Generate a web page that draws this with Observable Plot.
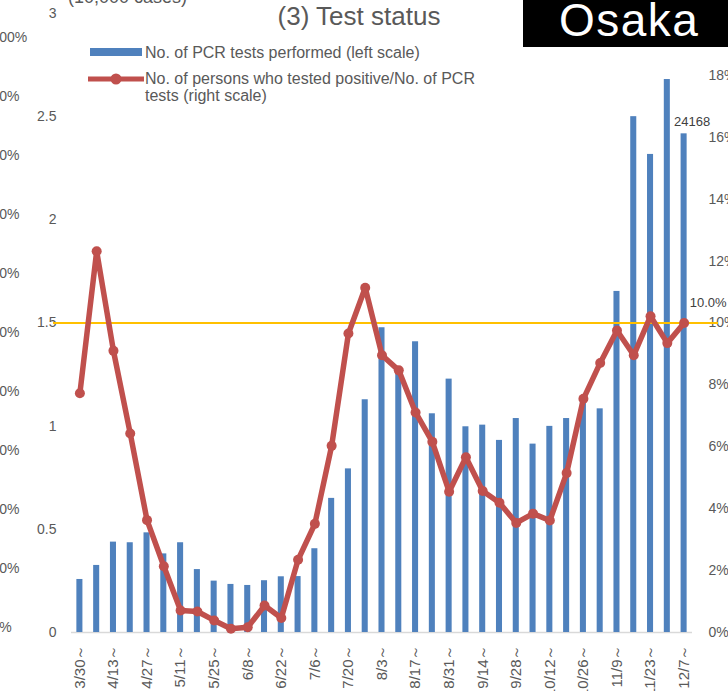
<!DOCTYPE html>
<html>
<head>
<meta charset="utf-8">
<script src="https://cdn.jsdelivr.net/npm/d3@7"></script>
<script src="https://cdn.jsdelivr.net/npm/@observablehq/plot@0.6"></script>
<style>
  html, body { margin: 0; padding: 0; background: #fff; overflow: hidden; }
  #wrap { position: relative; width: 728px; height: 691px; overflow: hidden; font-family: "Liberation Sans", Arial, sans-serif; }
  .abs { position: absolute; white-space: nowrap; }
  #title { left: 0; width: 718px; top: 3px; text-align: center; font-size: 26px; line-height: 26px; color: #595959; }
  #units { left: 68px; top: -12px; font-size: 18px; line-height: 18px; color: #595959; }
  #osaka { left: 523px; top: 0; width: 210px; height: 47px; background: #000; color: #fff; font-size: 46px; line-height: 40px; letter-spacing: 1.5px; padding-left: 36px; box-sizing: border-box; }
  .leg { font-size: 16px; line-height: 17px; color: #595959; }
</style>
</head>
<body>
<div id="wrap">
  <div id="chart"></div>
  <div class="abs" id="units">(10,000 cases)</div>
  <div class="abs" id="title">(3) Test status</div>
  <div class="abs" id="osaka">Osaka</div>
  <div class="abs" style="left:90px;top:48px;width:52px;height:8px;background:#4F81BD"></div>
  <div class="abs leg" style="left:145px;top:44px">No. of PCR tests performed (left scale)</div>
  <svg class="abs" style="left:86px;top:72px" width="60" height="14"><line x1="2" y1="7" x2="58" y2="7" stroke="#C0504D" stroke-width="5"/><circle cx="30" cy="7" r="5.5" fill="#C0504D"/></svg>
  <div class="abs leg" style="left:145px;top:70px">No. of persons who tested positive/No. of PCR<br>tests (right scale)</div>
</div>
<script>
// Weekly categories (week starting)
const weeks = ["3/30","4/6","4/13","4/20","4/27","5/4","5/11","5/18","5/25","6/1","6/8","6/15","6/22","6/29","7/6","7/13","7/20","7/27","8/3","8/10","8/17","8/24","8/31","9/7","9/14","9/21","9/28","10/5","10/12","10/19","10/26","11/2","11/9","11/16","11/23","11/30","12/7"];
// No. of PCR tests performed (10,000 cases)
const tests = [0.257,0.325,0.438,0.435,0.483,0.381,0.435,0.305,0.249,0.233,0.228,0.251,0.270,0.271,0.406,0.650,0.793,1.128,1.477,1.270,1.409,1.060,1.228,0.997,1.005,0.931,1.037,0.913,0.999,1.037,1.120,1.084,1.653,2.500,2.317,2.680,2.4168];
// Positive rate (%)
const positivity = [7.73,12.32,9.10,6.43,3.63,2.14,0.71,0.68,0.39,0.12,0.17,0.87,0.47,2.35,3.51,6.03,9.66,11.14,8.96,8.47,7.11,6.16,4.55,5.66,4.57,4.19,3.54,3.84,3.62,5.15,7.55,8.71,9.76,8.96,10.22,9.35,10.0];
// Axis ticks
const leftTicks = [0,0.5,1,1.5,2,2.5,3];
const rightTicks = [0,2,4,6,8,10,12,14,16,18];
const rightMax = 20;    // right scale max (%) aligned with left max
const leftMax = 3;
const threshold = 10;   // % reference line
// Partially visible tick labels of the neighbouring chart on the left (%)
const neighborTicks = [100,90,80,70,60,50,40,30,20,10,0];

const toLeft = p => p / rightMax * leftMax;
const rows = weeks.map((w, i) => ({week: w, tests: tests[i], pos: positivity[i], posL: toLeft(positivity[i])}));
const last = rows[rows.length - 1];
const neighborRows = neighborTicks.map(p => ({label: p + "%", v: (5 + 5.9 * p) / 206.33}));

const chart = Plot.plot({
  width: 728,
  height: 691,
  marginLeft: 71,
  marginRight: 36,
  marginTop: 13,
  marginBottom: 59,
  style: {fontFamily: "'Liberation Sans', Arial, sans-serif", fontSize: "14px", color: "#595959", background: "transparent", overflow: "visible"},
  x: {type: "band", domain: weeks, paddingInner: 0.64, paddingOuter: 0.32, round: false, label: null},
  y: {domain: [0, leftMax], label: null},
  marks: [
    Plot.axisY({ticks: leftTicks, tickSize: 0, tickPadding: 15, tickFormat: d => String(d), label: null, fontSize: 14}),
    Plot.axisY({anchor: "right", ticks: rightTicks.map(toLeft), tickSize: 0, tickPadding: 16, textAnchor: "start",
      tickFormat: d => Math.round(d / leftMax * rightMax) + "%", label: null, fontSize: 14}),
    Plot.axisX({ticks: weeks.filter((d, i) => i % 2 === 0), tickRotate: -90, tickSize: 0, tickPadding: 12,
      tickFormat: d => d + "～", label: null, fontSize: 15}),
    Plot.text(neighborRows, {y: "v", text: "label", frameAnchor: "left", dx: -80, textAnchor: "start", fill: "#595959", fontSize: 14}),
    Plot.ruleY([0], {stroke: "#D9D9D9", strokeWidth: 1.5}),
    Plot.barY(rows, {x: "week", y: "tests", fill: "#4F81BD"}),
    Plot.ruleY([toLeft(threshold)], {stroke: "#FFC000", strokeWidth: 2, insetLeft: -18, insetRight: -26}),
    Plot.line(rows, {x: "week", y: "posL", stroke: "#C0504D", strokeWidth: 5.5, strokeLinejoin: "round"}),
    Plot.dot(rows, {x: "week", y: "posL", r: 5, fill: "#C0504D"}),
    Plot.text([last], {x: "week", y: "tests", text: d => String(Math.round(d.tests * 10000)), dx: 8, dy: -12, fill: "#404040", fontSize: 13}),
    Plot.text([last], {x: "week", y: "posL", text: d => d.pos.toFixed(1) + "%", dx: 24, dy: -20, fill: "#404040", fontSize: 13})
  ]
});
document.getElementById("chart").appendChild(chart);
</script>
</body>
</html>
